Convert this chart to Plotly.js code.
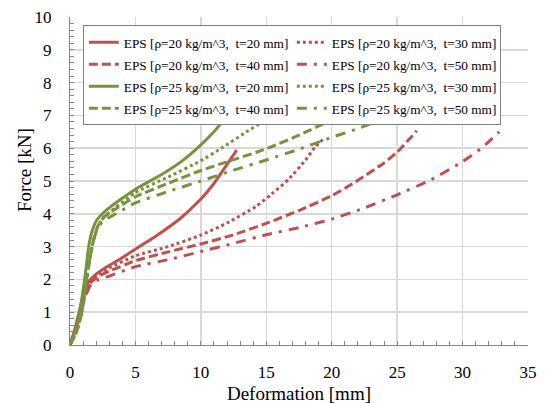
<!DOCTYPE html>
<html>
<head>
<meta charset="utf-8">
<script src="https://cdn.plot.ly/plotly-3.0.1.min.js"></script>
<style>
  html, body { margin: 0; padding: 0; background: #ffffff; }
  #chart { width: 546px; height: 404px; }
</style>
</head>
<body>
<div id="chart"></div>
<script>
// ---- data (Deformation [mm] -> Force [kN]) ----
var seriesNames = [
  "EPS [ρ=20 kg/m^3,  t=20 mm]",
  "EPS [ρ=20 kg/m^3,  t=30 mm]",
  "EPS [ρ=20 kg/m^3,  t=40 mm]",
  "EPS [ρ=20 kg/m^3,  t=50 mm]",
  "EPS [ρ=25 kg/m^3,  t=20 mm]",
  "EPS [ρ=25 kg/m^3,  t=30 mm]",
  "EPS [ρ=25 kg/m^3,  t=40 mm]",
  "EPS [ρ=25 kg/m^3,  t=50 mm]"
];

var r20t20_x = [0, 0.35, 0.68, 1.05, 1.43, 1.93, 2.8, 3.9, 5.0, 6.6, 8.4, 10.0, 10.9, 11.65, 12.74];
var r20t20_y = [0, 0.45, 0.97, 1.58, 1.93, 2.14, 2.38, 2.64, 2.92, 3.33, 3.85, 4.45, 4.87, 5.3, 5.94];

var r20t30_x = [0, 0.4, 0.8, 1.2, 1.6, 2.2, 3.0, 5.0, 7.5, 10.0, 12.0, 14.2, 15.4, 16.7, 18.0, 18.7, 19.4];
var r20t30_y = [0, 0.4, 1.0, 1.6, 1.95, 2.15, 2.35, 2.72, 3.0, 3.35, 3.72, 4.22, 4.6, 5.05, 5.64, 6.02, 6.3];

var r20t40_x = [0, 0.4, 0.8, 1.2, 1.6, 2.2, 3.0, 5.0, 7.5, 10.0, 12.5, 15.0, 17.5, 20.0, 22.0, 24.0, 25.0, 26.5];
var r20t40_y = [0, 0.4, 1.0, 1.55, 1.9, 2.1, 2.25, 2.57, 2.84, 3.08, 3.36, 3.71, 4.1, 4.55, 5.02, 5.55, 5.88, 6.53];

var r20t50_x = [0, 0.4, 0.8, 1.2, 1.6, 2.2, 3.0, 5.0, 7.5, 10.0, 12.5, 15.0, 17.5, 20.0, 22.5, 25.0, 27.5, 30.0, 31.5, 32.8];
var r20t50_y = [0, 0.4, 1.0, 1.5, 1.85, 2.0, 2.1, 2.39, 2.6, 2.85, 3.1, 3.36, 3.58, 3.84, 4.18, 4.58, 5.02, 5.59, 6.02, 6.5];

var r25t20_x = [0, 0.3, 0.55, 0.93, 1.18, 1.43, 1.68, 2.05, 2.8, 3.8, 5.0, 7.1, 8.6, 10.0, 11.0, 11.65, 12.3];
var r25t20_y = [0, 0.3, 0.56, 1.48, 2.19, 3.0, 3.46, 3.81, 4.12, 4.42, 4.75, 5.22, 5.62, 6.1, 6.5, 6.82, 7.2];

var r25t30_x = [0, 0.5, 0.9, 1.2, 1.5, 1.8, 2.1, 2.6, 3.5, 5.0, 7.5, 10.0, 11.65, 13.3, 15.0, 16.0];
var r25t30_y = [0, 0.4, 1.0, 1.8, 2.6, 3.2, 3.6, 3.9, 4.2, 4.65, 5.12, 5.62, 6.02, 6.45, 6.88, 7.15];

var r25t40_x = [0, 0.5, 0.9, 1.2, 1.5, 1.8, 2.1, 2.6, 3.5, 5.0, 7.5, 10.0, 12.5, 15.0, 17.5, 20.0, 21.0];
var r25t40_y = [0, 0.4, 1.0, 1.8, 2.6, 3.2, 3.6, 3.9, 4.15, 4.52, 4.93, 5.32, 5.65, 5.98, 6.4, 6.86, 7.05];

var r25t50_x = [0, 0.5, 0.9, 1.2, 1.5, 1.8, 2.1, 2.6, 3.5, 5.0, 7.5, 10.0, 12.5, 15.0, 17.5, 20.0, 22.0, 23.7, 25.0];
var r25t50_y = [0, 0.4, 1.0, 1.8, 2.6, 3.2, 3.55, 3.8, 4.0, 4.33, 4.68, 5.0, 5.33, 5.64, 5.97, 6.33, 6.6, 6.86, 7.1];

var xTicks = [0, 5, 10, 15, 20, 25, 30, 35];
var yTicks = [0, 1, 2, 3, 4, 5, 6, 7, 8, 9, 10];

var xTitle = "Deformation [mm]";
var yTitle = "Force [kN]";

// ---- styles ----
var RED = "#C0504D";
var GREEN = "#77933C";
var DOT = "3px,3px";
var DASH = "9px,4px";
var DASHDOT = "10px,7px,3px,7px";

var xs = [r20t20_x, r20t30_x, r20t40_x, r20t50_x, r25t20_x, r25t30_x, r25t40_x, r25t50_x];
var ys = [r20t20_y, r20t30_y, r20t40_y, r20t50_y, r25t20_y, r25t30_y, r25t40_y, r25t50_y];
var colors = [RED, RED, RED, RED, GREEN, GREEN, GREEN, GREEN];
var dashes = ["solid", DOT, DASH, DASHDOT, "solid", DOT, DASH, DASHDOT];

var traces = [];
for (var i = 0; i < seriesNames.length; i++) {
  traces.push({
    type: "scatter",
    mode: "lines",
    name: "<span style='font-size:13.3px'>" + seriesNames[i] + "</span>",
    x: xs[i],
    y: ys[i],
    line: { color: colors[i], width: 3, dash: dashes[i], shape: "spline", smoothing: 0.5 }
  });
}

var FONT = "Liberation Serif, Times New Roman, serif";

var layout = {
  width: 546,
  height: 404,
  margin: { l: 70, r: 18, t: 17, b: 59 },
  paper_bgcolor: "#ffffff",
  plot_bgcolor: "#ffffff",
  font: { family: FONT, color: "#000000", size: 17 },
  showlegend: true,
  legend: {
    x: 0.028, y: 0.975, xanchor: "left", yanchor: "top",
    orientation: "h",
    entrywidth: 163,
    entrywidthmode: "pixels",
    bgcolor: "#ffffff",
    bordercolor: "#808080",
    borderwidth: 1,
    font: { family: FONT, size: 14.6, color: "#000000" },
    traceorder: "normal"
  },
  xaxis: {
    range: [0, 35],
    tickvals: xTicks,
    ticktext: xTicks.map(String),
    showgrid: true,
    gridcolor: "#D9D9D9",
    gridwidth: 1.5,
    zeroline: false,
    showline: true,
    linecolor: "#868686",
    linewidth: 1,
    ticks: "inside",
    ticklen: 4,
    tickcolor: "#868686",
    ticklabelstandoff: 12,
    minor: { dtick: 1, ticks: "inside", ticklen: 4, tickcolor: "#868686", showgrid: false },
    tickfont: { family: FONT, size: 17, color: "#000000" },
    automargin: false,
    title: { text: xTitle, font: { family: FONT, size: 19, color: "#000000" } },
    fixedrange: true
  },
  yaxis: {
    range: [0, 10],
    tickvals: yTicks,
    ticktext: yTicks.map(String),
    showgrid: true,
    gridcolor: "#D9D9D9",
    gridwidth: 1.5,
    zeroline: false,
    showline: true,
    linecolor: "#868686",
    linewidth: 1,
    ticks: "inside",
    ticklen: 4,
    tickcolor: "#868686",
    ticklabelstandoff: 14,
    minor: { dtick: 0.2, ticks: "inside", ticklen: 4, tickcolor: "#868686", showgrid: false },
    tickfont: { family: FONT, size: 17, color: "#000000" },
    automargin: false,
    fixedrange: true
  },
  annotations: [{
    text: yTitle,
    xref: "paper", yref: "paper",
    x: -0.098, y: 0.534,
    xanchor: "center", yanchor: "middle",
    textangle: -90,
    showarrow: false,
    font: { family: FONT, size: 19, color: "#000000" }
  }]
};

Plotly.newPlot("chart", traces, layout, { displayModeBar: false, staticPlot: true });
</script>
</body>
</html>
